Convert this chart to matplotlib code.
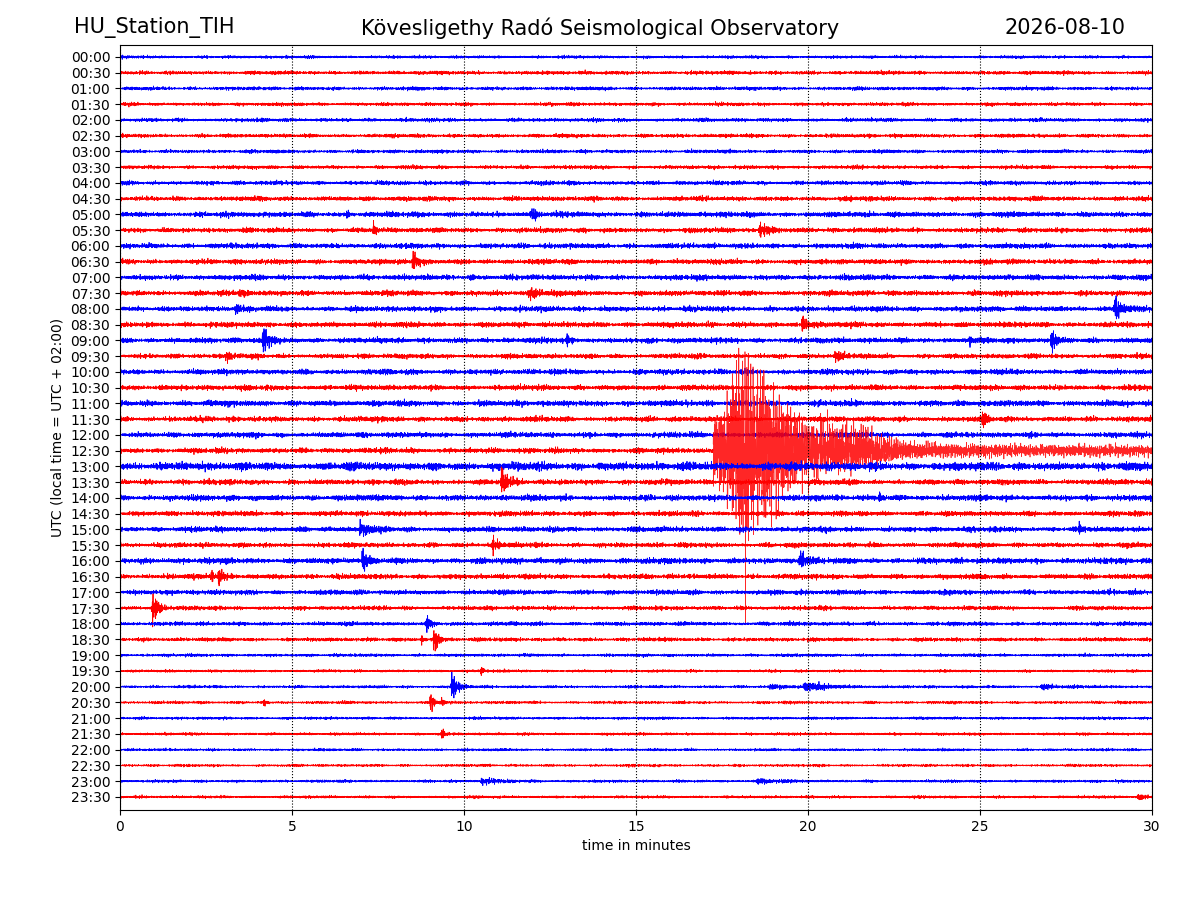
import numpy as np
import matplotlib
matplotlib.use("Agg")
import matplotlib.pyplot as plt

# ---------------- data ----------------
station = "HU_Station_TIH"
observatory = "Kövesligethy Radó Seismological Observatory"
date_label = "2026-08-10"

row_labels = [f"{h:02d}:{m:02d}" for h in range(24) for m in (0, 30)]

# background noise peak half-amplitude per row (in units of row spacing)
row_noise = [0.12, 0.15, 0.14, 0.14, 0.15, 0.15, 0.14, 0.15, 0.17, 0.19,
             0.22, 0.20, 0.21, 0.21, 0.22, 0.22, 0.22, 0.22, 0.22, 0.20,
             0.22, 0.22, 0.24, 0.22, 0.22, 0.22, 0.34, 0.22, 0.24, 0.21,
             0.22, 0.20, 0.24, 0.21, 0.20, 0.17, 0.16, 0.15, 0.12, 0.11,
             0.11, 0.11, 0.11, 0.11, 0.10, 0.10, 0.11, 0.11]

# local events: row index, onset (min), peak half-amplitude (rows), decay (min)
ev_row = [10, 10, 11, 11, 13, 14, 15, 15, 16, 16, 17, 18, 18, 18, 18, 19, 19,
          23, 27, 28, 30, 30, 31, 32, 32, 33, 33, 35, 36, 37, 37, 39, 40, 40,
          40, 40, 41, 41, 41, 43, 46, 46, 47]
ev_time = [6.6, 11.98, 7.38, 18.6, 8.52, 10.2, 11.9, 3.5, 3.37, 28.92, 19.85,
           4.16, 27.09, 13.0, 24.7, 3.11, 20.8, 25.09, 11.1, 22.1, 6.98, 27.9,
           10.84, 7.06, 19.77, 2.67, 2.88, 0.96, 8.92, 8.78, 9.13, 10.5, 9.65,
           19.9, 18.9, 26.8, 4.2, 9.04, 9.35, 9.36, 10.5, 18.5, 29.6]
ev_amp = [0.25, 0.35, 0.45, 0.4, 0.65, 0.22, 0.25, 0.2, 0.35, 0.85, 0.6,
          0.8, 0.7, 0.25, 0.25, 0.35, 0.3, 0.5, 0.75, 0.3, 0.3, 0.25,
          0.4, 0.7, 0.7, 0.35, 0.55, 0.9, 0.45, 0.3, 0.8, 0.3, 0.85,
          0.22, 0.15, 0.15, 0.2, 0.6, 0.35, 0.3, 0.15, 0.1, 0.15]
ev_dur = [0.05, 0.12, 0.06, 0.25, 0.12, 0.05, 0.3, 0.15, 0.08, 0.15, 0.12,
          0.15, 0.12, 0.07, 0.07, 0.08, 0.15, 0.08, 0.15, 0.06, 0.3, 0.05,
          0.12, 0.1, 0.12, 0.06, 0.1, 0.15, 0.1, 0.05, 0.12, 0.05, 0.15,
          0.7, 0.3, 0.4, 0.05, 0.08, 0.06, 0.07, 0.5, 0.6, 0.2]

# the large earthquake on the 12:30 line: envelope knots (min, rows up / down)
eq_row = 25
eq_times = [17.24, 17.30, 17.45, 17.60, 17.75, 17.93, 18.04, 18.20, 18.35,
            18.50, 18.68, 18.90, 19.20, 19.42, 19.70, 20.00, 20.50, 21.00,
            21.50, 22.00, 22.50, 23.00, 24.00, 26.00, 28.00, 30.00]
eq_up = [4.0, 3.0, 4.3, 3.9, 6.5, 7.8, 8.6, 9.8, 7.5, 7.0, 7.8, 6.0, 4.9,
         4.4, 3.6, 3.1, 2.6, 2.3, 2.3, 1.5, 1.1, 0.75, 0.6, 0.5, 0.48, 0.44]
eq_down = [3.6, 3.0, 3.6, 3.9, 6.0, 6.5, 10.9, 13.5, 7.5, 6.2, 7.6, 5.4, 5.0,
           4.1, 3.1, 2.7, 2.2, 2.1, 1.9, 1.4, 1.0, 0.7, 0.6, 0.5, 0.48, 0.44]

colors = ["blue", "red"]
x_ticks = [0, 5, 10, 15, 20, 25, 30]

# ---------------- build traces ----------------
n = 6000
t = np.linspace(0, 30, n)
k = np.arange(n)
fast_f = [0.913, 1.372, 1.731, 2.193, 2.614, 2.971, 0.537, 1.117, 1.903, 2.411]
slow_f = [0.0123, 0.0291, 0.0517, 0.0071, 0.0389]


def texture(ph):
    s = sum(np.sin(f * k + ph * (j + 1) * 1.71) for j, f in enumerate(fast_f))
    return np.clip(s / np.sqrt(len(fast_f) / 2.0), -3, 3) / 3.0


def slow(ph):
    s = sum(np.sin(f * k + ph * (j + 2) * 0.93) for j, f in enumerate(slow_f))
    return s / np.sqrt(len(slow_f) / 2.0)


fig = plt.figure(figsize=(12, 9), dpi=100)
ax = fig.add_axes([0.1, 0.1, 0.86, 0.85])

for r in range(len(row_labels)):
    ph = r * 1.37 + 0.3
    tex = texture(ph)
    burst = np.clip(0.85 + 0.2 * slow(ph), 0.5, 1.3)
    sig = row_noise[r] * burst * tex
    for er, et, ea, ed in zip(ev_row, ev_time, ev_amp, ev_dur):
        if er != r:
            continue
        dt = t - et
        env = np.where(dt >= 0, np.exp(-np.clip(dt, 0, None) / ed),
                       np.exp(-(np.clip(-dt, 0, None) / 0.03) ** 2))
        sig = sig + ea * env * tex * 1.6
    color = colors[r % 2]
    if r == eq_row:
        up = np.interp(t, eq_times, eq_up)
        dn = np.interp(t, eq_times, eq_down)
        eqsig = np.where(tex > 0, up, dn) * tex
        eqsig = np.clip(eqsig, -11.0, 7.7)
        on = t >= eq_times[0]
        ax.plot(t[~on], r - sig[~on], color=color, lw=0.6)
        ax.plot(t[on], r - (sig[on] * 0.3 + eqsig[on]), color=color,
                lw=0.5, alpha=0.85)
        continue
    ax.plot(t, r - sig, color=color, lw=0.6)

ax.set_xlim(0, 30)
ax.set_ylim(47.83, -0.76)
ax.set_xticks(x_ticks)
ax.set_yticks(range(len(row_labels)))
ax.set_yticklabels(row_labels)
ax.grid(axis="x", linestyle=":", color="black", linewidth=0.8)
ax.set_axisbelow(False)
ax.set_xlabel("time in minutes")
ax.set_ylabel("UTC (local time = UTC + 02:00)")

fig.text(0.062, 0.969, station, fontsize=15, ha="left", va="center")
fig.text(0.5, 0.969, observatory, fontsize=15, ha="center", va="center")
fig.text(0.938, 0.969, date_label, fontsize=15, ha="right", va="center")

fig.savefig("out.png", dpi=100)
